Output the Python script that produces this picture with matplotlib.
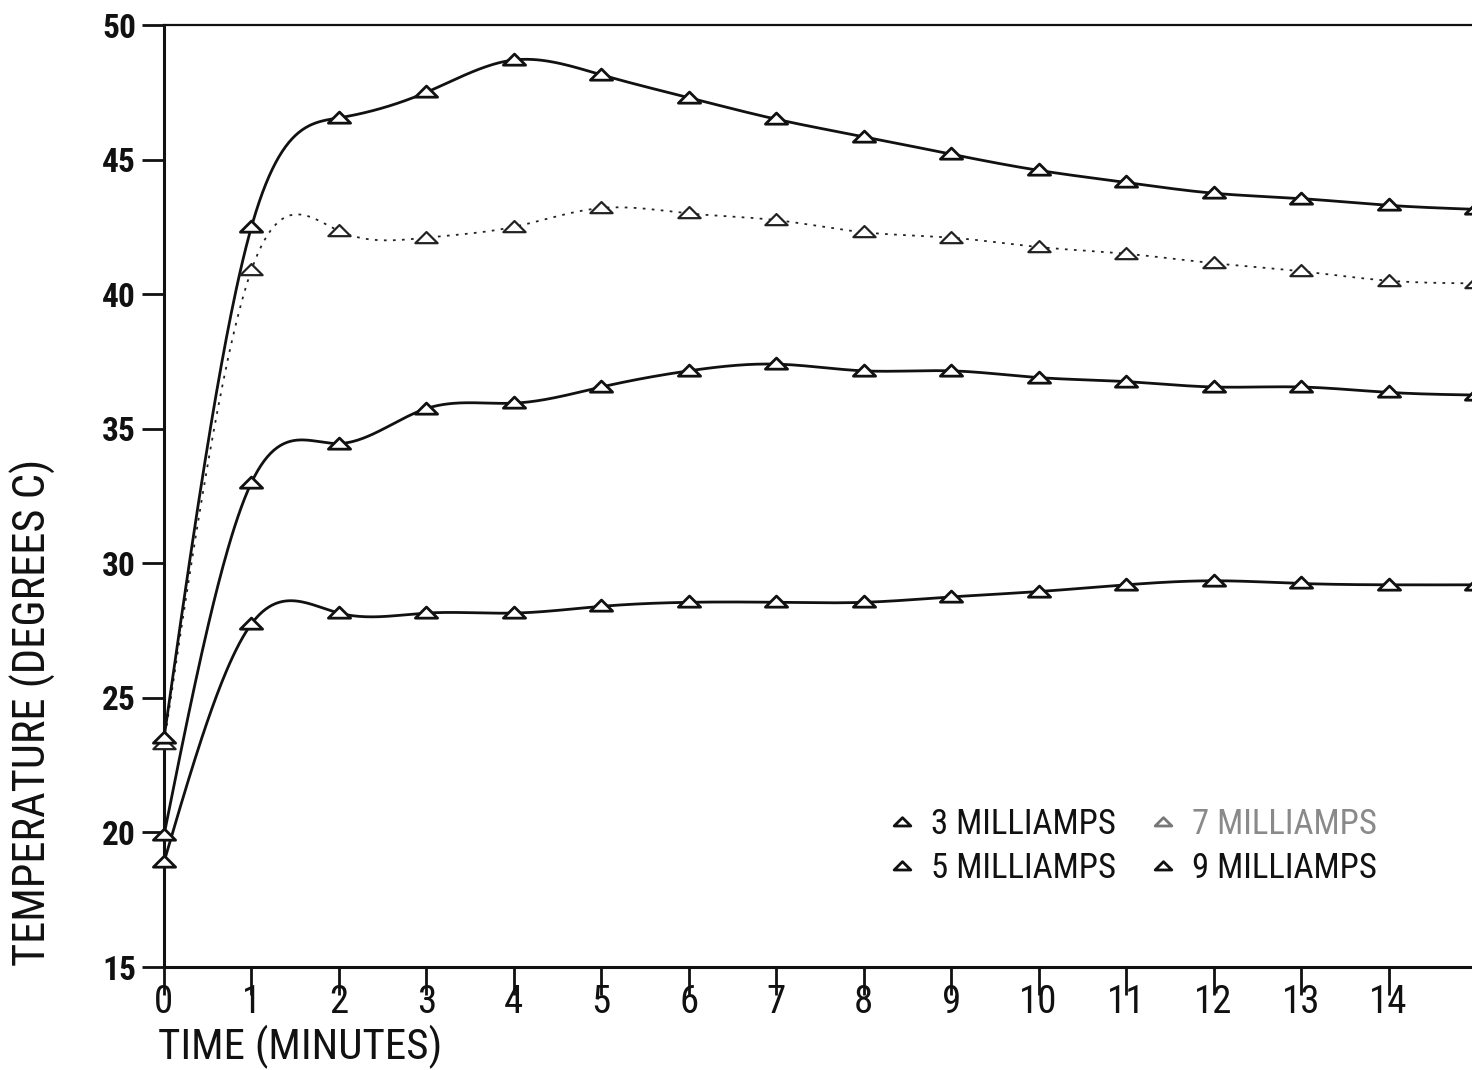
import numpy as np
import matplotlib
matplotlib.use("Agg")
import matplotlib.pyplot as plt
from matplotlib.path import Path
from matplotlib.lines import Line2D

FONT = ["Roboto Condensed", "DejaVu Sans Condensed", "Liberation Sans Narrow",
        "Liberation Sans", "DejaVu Sans"]
plt.rcParams["font.family"] = FONT

# ---- data: temperature (deg C) sampled once per minute ----
minutes = list(range(16))
temp_3ma = [18.9, 27.75, 28.15, 28.15, 28.15, 28.4, 28.55, 28.55, 28.55, 28.75,
            28.95, 29.2, 29.35, 29.25, 29.2, 29.2]
temp_5ma = [19.9, 33.0, 34.45, 35.75, 35.95, 36.55, 37.15, 37.4, 37.15, 37.15,
            36.9, 36.75, 36.55, 36.55, 36.35, 36.25]
temp_7ma = [23.3, 40.9, 42.35, 42.1, 42.5, 43.2, 43.0, 42.75, 42.3, 42.1,
            41.75, 41.5, 41.15, 40.85, 40.5, 40.4]
temp_9ma = [23.5, 42.5, 46.55, 47.5, 48.7, 48.15, 47.3, 46.5, 45.85, 45.2,
            44.6, 44.15, 43.75, 43.55, 43.3, 43.15]

series_labels = ["3 MILLIAMPS", "5 MILLIAMPS", "7 MILLIAMPS", "9 MILLIAMPS"]
x_ticks = list(range(15))
y_ticks = [15, 20, 25, 30, 35, 40, 45, 50]


def natural_spline(x, y, num=800):
    """Natural cubic spline through the points, evaluated on a fine grid."""
    x = np.asarray(x, float)
    y = np.asarray(y, float)
    n = len(x)
    h = np.diff(x)
    A = np.zeros((n, n))
    rhs = np.zeros(n)
    A[0, 0] = A[-1, -1] = 1.0
    for i in range(1, n - 1):
        A[i, i - 1] = h[i - 1]
        A[i, i] = 2 * (h[i - 1] + h[i])
        A[i, i + 1] = h[i]
        rhs[i] = 3 * ((y[i + 1] - y[i]) / h[i] - (y[i] - y[i - 1]) / h[i - 1])
    c = np.linalg.solve(A, rhs)
    b = (y[1:] - y[:-1]) / h - h * (2 * c[:-1] + c[1:]) / 3
    d = (c[1:] - c[:-1]) / (3 * h)
    xs = np.linspace(x[0], x[-1], num)
    idx = np.clip(np.searchsorted(x, xs, side="right") - 1, 0, n - 2)
    dx = xs - x[idx]
    ys = y[idx] + b[idx] * dx + c[idx] * dx ** 2 + d[idx] * dx ** 3
    return xs, ys


# flat open triangle used as the plot symbol
tri = Path([(-1.0, -0.42), (1.0, -0.42), (0.0, 0.58), (-1.0, -0.42)],
           [Path.MOVETO, Path.LINETO, Path.LINETO, Path.CLOSEPOLY])

fig = plt.figure(figsize=(14.72, 10.70), dpi=100)
fig.patch.set_facecolor("white")
ax = fig.add_axes([164 / 1472, 103 / 1070, (1476 - 164) / 1472, (1045 - 103) / 1070])

ink = "#111111"
styles = [
    dict(color=ink, lw=2.0, ls="-"),
    dict(color=ink, lw=2.0, ls="-"),
    dict(color="#222222", lw=1.3, ls=(0, (1.5, 3.5))),
    dict(color=ink, lw=2.0, ls="-"),
]
all_series = [temp_3ma, temp_5ma, temp_7ma, temp_9ma]

for temps, st in zip(all_series, styles):
    xs, ys = natural_spline(minutes, temps)
    ax.plot(xs, ys, color=st["color"], lw=st["lw"], ls=st["ls"], zorder=2,
            clip_on=False)
    mew = 1.6 if st["ls"] != "-" else 2.0
    ax.plot(minutes, temps, ls="none", marker=tri, markersize=16,
            markerfacecolor="white", markeredgecolor=st["color"],
            markeredgewidth=mew, zorder=3, clip_on=False)

ax.set_xlim(0, 15)
ax.set_ylim(15, 50)
ax.set_xticks(x_ticks)
ax.set_yticks(y_ticks)

ax.spines["right"].set_visible(False)
ax.spines["left"].set_linewidth(2.2)
ax.spines["bottom"].set_linewidth(2.2)
ax.spines["top"].set_linewidth(1.6)
for s in ("left", "bottom", "top"):
    ax.spines[s].set_color(ink)

ax.tick_params(axis="y", direction="out", length=16, width=2, pad=4,
               labelsize=24, colors=ink)
ax.tick_params(axis="x", direction="out", length=20, width=2, pad=-8,
               labelsize=28, colors=ink)
for lab in ax.get_yticklabels():
    lab.set_fontweight("bold")

fig.text(33 / 1472, 1 - 712 / 1070, "TEMPERATURE (DEGREES C)", rotation=90,
         ha="center", va="center", fontsize=32, color=ink)
fig.text(158 / 1472, 1 - 1047 / 1070, "TIME (MINUTES)", ha="left",
         va="center", fontsize=31, color=ink)

# legend: two columns of symbol + label
handles = [Line2D([], [], ls="none", marker=tri, markersize=12,
                  markerfacecolor="white", markeredgecolor=ink,
                  markeredgewidth=2.0) for _ in series_labels]
handles[2].set_markeredgecolor("#777777")
leg = ax.legend(handles, series_labels, ncol=2, frameon=False,
                fontsize=25, handlelength=0.7, handletextpad=0.5,
                columnspacing=1.0, labelspacing=0.3,
                loc="upper left", bbox_to_anchor=(872 / 1472, 1 - 791 / 1070),
                bbox_transform=fig.transFigure, borderpad=0)
for txt, col in zip(leg.get_texts(), [ink, ink, "#8a8a8a", ink]):
    txt.set_color(col)

fig.savefig("out.png", dpi=100, facecolor="white")
